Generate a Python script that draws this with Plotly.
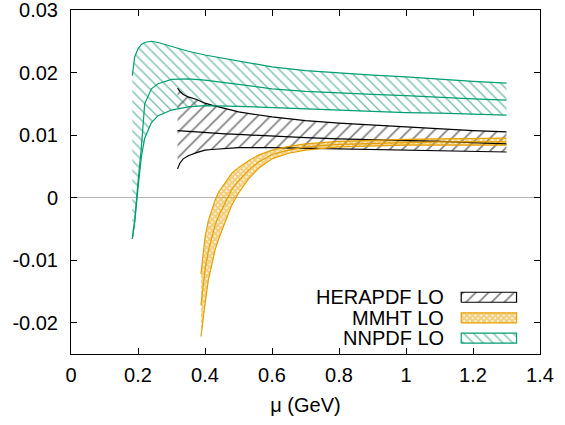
import plotly.graph_objects as go

# ---------------- data ----------------
nn_x = [0.183, 0.19, 0.20, 0.21, 0.22, 0.24, 0.26, 0.30, 0.35, 0.40, 0.50, 0.60, 0.70, 0.80, 0.90, 1.0, 1.1, 1.2, 1.3]
nn_up = [0.0195, 0.0225, 0.0238, 0.0245, 0.0248, 0.0250, 0.0248, 0.0242, 0.0234, 0.0228, 0.0218, 0.0209, 0.0203, 0.0199, 0.0196, 0.0193, 0.0189, 0.0186, 0.0183]
nn_mid = [-0.0066, -0.0038, 0.0025, 0.0080, 0.0150, 0.0174, 0.0182, 0.0189, 0.0190, 0.0188, 0.0181, 0.0174, 0.0170, 0.0167, 0.0165, 0.0163, 0.0160, 0.0158, 0.0156]
nn_lo = [-0.0066, -0.0040, 0.0015, 0.0065, 0.0095, 0.0120, 0.0131, 0.0140, 0.0145, 0.0147, 0.0146, 0.0144, 0.0141, 0.0139, 0.0137, 0.0136, 0.0135, 0.0133, 0.0132]

he_x = [0.318, 0.325, 0.335, 0.35, 0.375, 0.40, 0.42, 0.46, 0.50, 0.60, 0.70, 0.80, 0.90, 1.0, 1.1, 1.2, 1.3]
he_up = [0.0175, 0.0170, 0.0165, 0.0161, 0.0157, 0.0151, 0.0148, 0.0142, 0.0137, 0.0129, 0.0123, 0.0119, 0.0116, 0.0112, 0.0110, 0.0107, 0.0105]
he_mid = [0.0107, 0.0107, 0.0106, 0.0106, 0.0105, 0.0104, 0.0103, 0.0102, 0.0101, 0.0098, 0.0096, 0.0094, 0.0093, 0.0092, 0.0090, 0.0088, 0.0086]
he_lo = [0.0046, 0.0055, 0.0062, 0.0067, 0.0072, 0.0076, 0.0077, 0.0079, 0.0080, 0.0080, 0.0079, 0.0078, 0.0077, 0.0076, 0.0075, 0.0074, 0.0073]

mm_x = [0.388, 0.395, 0.40, 0.41, 0.42, 0.43, 0.44, 0.46, 0.48, 0.50, 0.53, 0.56, 0.60, 0.65, 0.70, 0.80, 0.90, 1.0, 1.1, 1.2, 1.3]
mm_up = [-0.0122, -0.0085, -0.0063, -0.0037, -0.0019, -0.0004, 0.0008, 0.0024, 0.0039, 0.0048, 0.0059, 0.0068, 0.0076, 0.0082, 0.0086, 0.0090, 0.0092, 0.0093, 0.0094, 0.0095, 0.0095]
mm_mid = [-0.0172, -0.0137, -0.0116, -0.0085, -0.0062, -0.0044, -0.0030, -0.0008, 0.0013, 0.0027, 0.0044, 0.0057, 0.0069, 0.0076, 0.0081, 0.0085, 0.0087, 0.0088, 0.0089, 0.0089, 0.0089]
mm_lo = [-0.0222, -0.0190, -0.0170, -0.0132, -0.0105, -0.0084, -0.0067, -0.0040, -0.0012, 0.0007, 0.0030, 0.0047, 0.0062, 0.0071, 0.0076, 0.0081, 0.0083, 0.0084, 0.0084, 0.0084, 0.0084]

series_names = ["HERAPDF LO", "MMHT LO", "NNPDF LO"]

x_ticks = [0, 0.2, 0.4, 0.6, 0.8, 1.0, 1.2, 1.4]
x_ticktext = ["0", "0.2", "0.4", "0.6", "0.8", "1", "1.2", "1.4"]
y_ticks = [-0.02, -0.01, 0, 0.01, 0.02, 0.03]
y_ticktext = ["-0.02", "-0.01", "0", "0.01", "0.02", "0.03"]

# ---------------- styles ----------------
BLACK = "#000000"
ORANGE = "#E69F00"
GREEN = "#009E73"
FONT = "Liberation Sans, Arial, sans-serif"

styles = {
    "HERAPDF LO": dict(color=BLACK, hatch="#000000", shape="/", size=9, solidity=0.18),
    "MMHT LO": dict(color=ORANGE, hatch=ORANGE, shape="x", size=4, solidity=0.8),
    "NNPDF LO": dict(color=GREEN, hatch="#008563", shape="\\", size=7, solidity=0.21),
}

bands = [
    ("HERAPDF LO", he_x, he_lo, he_mid, he_up),
    ("MMHT LO", mm_x, mm_lo, mm_mid, mm_up),
    ("NNPDF LO", nn_x, nn_lo, nn_mid, nn_up),
]

fig = go.Figure()

# fills
for name, xs, lo, mid, up in bands:
    st = styles[name]
    fig.add_trace(go.Scatter(
        x=list(xs) + list(xs)[::-1],
        y=list(up) + list(lo)[::-1],
        mode="lines", fill="toself",
        fillcolor="rgba(0,0,0,0)",
        fillpattern=dict(shape=st["shape"], fgcolor=st["hatch"], bgcolor="rgba(0,0,0,0)",
                         size=st["size"], solidity=st["solidity"]),
        line=dict(width=0, color="rgba(0,0,0,0)"),
        hoverinfo="skip", showlegend=False,
    ))

# boundary & central lines
for name, xs, lo, mid, up in bands:
    st = styles[name]
    for ys in (lo, mid, up):
        fig.add_trace(go.Scatter(
            x=xs, y=ys, mode="lines",
            line=dict(color=st["color"], width=1.2),
            hoverinfo="skip", showlegend=False,
        ))

# custom gnuplot-style key (text left, swatch right) on an overlay axis
key_centers = [0.165, 0.105, 0.046]
key_x0, key_x1, key_h = 0.832, 0.950, 0.0145
for name, yc in zip(series_names, key_centers):
    st = styles[name]
    fig.add_trace(go.Scatter(
        x=[key_x0, key_x1, key_x1, key_x0, key_x0],
        y=[yc - key_h, yc - key_h, yc + key_h, yc + key_h, yc - key_h],
        xaxis="x2", yaxis="y2",
        mode="lines", fill="toself", fillcolor="rgba(0,0,0,0)",
        fillpattern=dict(shape=st["shape"], fgcolor=st["hatch"], bgcolor="rgba(0,0,0,0)",
                         size=st["size"], solidity=st["solidity"]),
        line=dict(color=st["color"], width=1.2),
        hoverinfo="skip", showlegend=False,
    ))
    fig.add_annotation(
        x=0.800, y=yc, xref="paper", yref="paper",
        text=name, showarrow=False, xanchor="right", yanchor="middle",
        font=dict(family=FONT, size=20, color="#000000"),
    )

axis_common = dict(
    showgrid=False, showline=True, linecolor="#000000", linewidth=1,
    ticks="inside", ticklen=6, tickcolor="#000000", tickwidth=1,
    mirror="ticks", ticklabeloverflow="allow", automargin=False,
    tickfont=dict(family=FONT, size=20, color="#000000"),
)

fig.update_layout(
    width=565, height=425,
    margin=dict(l=71, r=25, t=10, b=71),
    plot_bgcolor="white", paper_bgcolor="white",
    showlegend=False,
    font=dict(family=FONT, size=20, color="#000000"),
    xaxis=dict(range=[0, 1.40001], tickvals=x_ticks, ticktext=x_ticktext, zeroline=False,
               title=dict(text="μ (GeV)", font=dict(family=FONT, size=20), standoff=12),
               ticklabelstandoff=3, **axis_common),
    yaxis=dict(range=[-0.025, 0.0300001], tickvals=y_ticks, ticktext=y_ticktext,
               zeroline=True, zerolinecolor="#b4b4b4", zerolinewidth=1,
               ticklabelstandoff=8, **axis_common),
    xaxis2=dict(range=[0, 1], overlaying="x", visible=False, anchor="y2", automargin=False),
    yaxis2=dict(range=[0, 1], overlaying="y", visible=False, anchor="x2", automargin=False),
)

fig.write_html("out.html", config={"displayModeBar": False},
               post_script="document.body.style.margin='0';document.body.style.overflow='hidden';")
